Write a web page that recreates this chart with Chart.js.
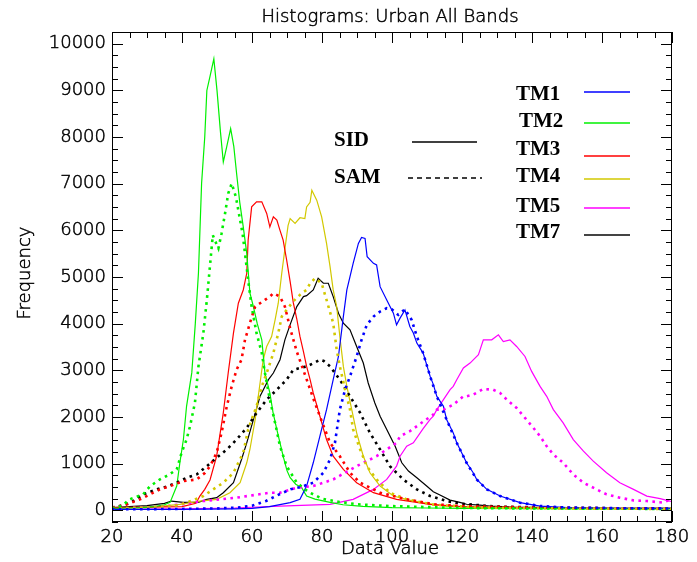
<!DOCTYPE html>
<html>
<head>
<meta charset="utf-8">
<script src="https://cdn.jsdelivr.net/npm/chart.js@4"></script>
<style>
  html, body { margin: 0; padding: 0; background: #fff; }
  #wrap { width: 697px; height: 562px; }
</style>
</head>
<body>
<div id="wrap"><canvas id="chart" width="697" height="562"></canvas></div>
<script>
// axis ticks
const xTicks = [20, 40, 60, 80, 100, 120, 140, 160, 180];
const yTicks = [0, 1000, 2000, 3000, 4000, 5000, 6000, 7000, 8000, 9000, 10000];

const bands = ['TM1', 'TM2', 'TM3', 'TM4', 'TM5', 'TM7'];
const bandColors = ['#0000ff', '#00f000', '#ff0000', '#d2c800', '#ff00ff', '#000000'];

// TM1 (blue)
const tm1SidX = [20, 40, 55, 60, 65, 70.9, 73.7, 75.6, 77.5, 79.4, 81.3, 83.2, 84.7, 86.1, 87.1, 88, 88.9, 90.4, 91.3, 92.3, 92.9, 94.7, 95.6, 96.6, 98.5, 100.4, 101.3, 102.3, 103.7, 105.1, 106.1, 107.1, 108.9, 110.9, 111.8, 112.8, 114.7, 115.6, 117.5, 118.5, 120.4, 121.3, 123.2, 124.2, 127.1, 130.9, 136.6, 142.3, 150, 165, 180];
const tm1SidY = [20, 20, 30, 40, 80, 164, 235, 520, 1019, 1588, 2158, 2800, 3297, 4152, 4723, 5007, 5293, 5720, 5849, 5827, 5434, 5293, 5257, 4793, 4509, 4224, 3975, 4118, 4295, 3939, 3800, 3584, 3370, 2870, 2700, 2443, 2229, 1945, 1660, 1447, 1160, 1019, 805, 662, 449, 306, 164, 92, 60, 45, 40];
const tm1SamX = [20, 40, 50, 56, 60, 64, 68, 71, 74, 77.5, 80.4, 82.3, 83.7, 85.1, 86.6, 88, 89.9, 91.3, 92.8, 94.7, 96.6, 98.5, 99.9, 101.8, 103.7, 105.6, 107.1, 108.9, 110.9, 112.8, 115.6, 118.5, 121.3, 124.2, 127.1, 130.9, 136.6, 142.3, 150, 165, 180];
const tm1SamY = [20, 30, 40, 60, 100, 200, 350, 450, 500, 592, 805, 1090, 1447, 2158, 2586, 2870, 3297, 3654, 3975, 4152, 4259, 4331, 4309, 4188, 4309, 4082, 3725, 3370, 2870, 2443, 1945, 1447, 1019, 662, 449, 306, 164, 92, 60, 45, 40];

// TM2 (green)
const tm2SidX = [20, 24, 28, 32, 35, 36.6, 38.5, 39.4, 40.4, 41.3, 42.8, 43.8, 44.7, 45.6, 46.5, 47.1, 48, 49.1, 50, 51, 51.8, 52.8, 53.9, 54.8, 55.6, 56.5, 57.5, 58.5, 59.4, 60.4, 61.5, 62.8, 63.7, 65.1, 66, 67.1, 68, 68.9, 70, 70.9, 72.5, 74.2, 75.6, 78, 82.3, 86, 91.7, 100, 110, 120, 140, 160, 180];
const tm2SidY = [40, 50, 60, 80, 120, 170, 520, 1025, 1517, 2229, 2950, 4000, 5086, 7010, 8000, 8997, 9300, 9675, 9000, 8100, 7465, 7800, 8178, 7800, 7217, 6600, 6075, 5507, 4658, 4366, 4000, 3654, 2942, 2515, 2100, 1731, 1447, 1160, 850, 700, 560, 485, 306, 240, 171, 120, 85, 60, 50, 40, 35, 30, 30];
const tm2SamX = [20, 23, 25, 28.9, 30.9, 33.7, 36, 38.5, 39.9, 41.3, 42.3, 43.7, 44.7, 46.1, 47.1, 47.8, 48.8, 49.3, 50.4, 51.3, 52.3, 53.2, 54.2, 55.4, 56.6, 57.3, 58, 58.9, 59.9, 61.3, 62.8, 63.7, 65.1, 66.6, 68, 69.9, 72.8, 76, 80, 85, 90, 100, 120, 140, 160, 180];
const tm2SamY = [40, 100, 235, 342, 520, 662, 750, 876, 1240, 1517, 1802, 2308, 3084, 3797, 4509, 5080, 5898, 5800, 5614, 5934, 6362, 6789, 7003, 6717, 6219, 5934, 5507, 4936, 4366, 3797, 3370, 2942, 2372, 1874, 1374, 947, 592, 400, 250, 180, 130, 90, 50, 40, 35, 30];

// TM3 (red)
const tm3SidX = [20, 30, 40, 44, 45.1, 46.5, 48, 49.9, 51.8, 53.2, 54.7, 56.1, 57.5, 58.5, 58.9, 59.9, 61.3, 62.8, 64.2, 65.1, 66.1, 67.1, 68, 68.9, 69.9, 70.9, 71.8, 72.8, 73.7, 74.7, 75.6, 76.6, 77.5, 79.4, 81.3, 83.2, 86.1, 89.9, 94.7, 101.3, 110.9, 120, 140, 160, 180];
const tm3SidY = [60, 70, 80, 150, 306, 450, 650, 1160, 2088, 2942, 3797, 4438, 4722, 5080, 5791, 6503, 6610, 6610, 6362, 6075, 6289, 6219, 6000, 5791, 5364, 4900, 4450, 4100, 3726, 3400, 3084, 2800, 2515, 2016, 1517, 1160, 876, 592, 378, 235, 128, 80, 55, 45, 40];
const tm3SamX = [20, 24, 28, 31.8, 33.7, 36.6, 40.4, 44.2, 46.6, 48, 49.9, 51.3, 52.8, 54.2, 55.6, 57, 58, 59.4, 60.9, 62.3, 63.7, 65.1, 66.1, 68, 69.4, 70.9, 72.8, 74.7, 76.1, 77.5, 79.4, 82.3, 85.1, 88, 90.9, 96.6, 104.2, 112, 120, 140, 160, 180];
const tm3SamY = [60, 120, 235, 378, 449, 520, 626, 662, 805, 947, 1233, 1660, 2229, 2656, 3013, 3227, 3654, 4011, 4366, 4438, 4509, 4580, 4651, 4580, 4366, 3900, 3400, 3000, 2700, 2400, 2016, 1447, 1160, 805, 592, 378, 235, 130, 90, 60, 45, 40];

// TM4 (yellow)
const tm4SidX = [20, 30, 39.4, 45.1, 49.9, 53.7, 56.6, 58.5, 59.4, 60.9, 62.3, 63.2, 64.2, 65.6, 66.6, 67.5, 68.5, 69.4, 70.3, 70.9, 72.3, 73.7, 75.1, 75.6, 76.6, 77.1, 78.5, 79.9, 81.3, 82.3, 83.2, 84.2, 85.1, 86.1, 87.1, 88.5, 89.9, 91.8, 93.7, 96.6, 100.4, 106.1, 115, 130, 150, 180];
const tm4SidY = [40, 60, 128, 199, 235, 378, 592, 1019, 1304, 1945, 2729, 3227, 3511, 3725, 4082, 4438, 5080, 5600, 6100, 6250, 6150, 6270, 6250, 6500, 6600, 6860, 6646, 6289, 5720, 5221, 4723, 4366, 3725, 3084, 2656, 2158, 1660, 1160, 805, 520, 306, 199, 90, 50, 40, 30];
const tm4SamX = [20, 30, 38, 41.3, 46.1, 48.9, 51.8, 54.7, 57.5, 58.9, 59.9, 61.3, 62.8, 64.2, 66.1, 67.5, 68.5, 69.9, 71.8, 74.2, 75.6, 76.5, 78, 79.9, 81.3, 83.2, 84.2, 85.1, 86.6, 88, 88.9, 90.9, 92.8, 95.6, 99.4, 104.2, 112, 125, 150, 180];
const tm4SamY = [40, 60, 100, 164, 306, 449, 592, 805, 1233, 1731, 1945, 2229, 2656, 2942, 3370, 3797, 4152, 4295, 4480, 4652, 4723, 4850, 4973, 4866, 4509, 4011, 3441, 3084, 2586, 2158, 1731, 1304, 947, 662, 378, 235, 120, 60, 40, 30];

// TM5 (magenta)
const tm5SidX = [20, 40, 55, 68, 82.3, 88.9, 94.7, 98.5, 101.3, 102.3, 104.2, 106.1, 108.9, 110.9, 111.8, 112.8, 114.7, 116.6, 117.5, 118.5, 120.4, 122.3, 124.7, 126.1, 128.5, 130.4, 131.8, 133.7, 135.6, 138, 139.9, 142.3, 144.2, 146.1, 148.9, 151.8, 154.7, 157.5, 161.3, 165.1, 169, 172.8, 176.6, 179.4, 180];
const tm5SidY = [20, 30, 50, 92, 128, 235, 449, 662, 947, 1160, 1374, 1447, 1750, 1950, 2016, 2158, 2372, 2586, 2656, 2800, 3050, 3156, 3334, 3654, 3654, 3761, 3618, 3654, 3511, 3297, 2977, 2656, 2443, 2158, 1874, 1517, 1267, 1054, 805, 592, 449, 306, 250, 199, 190];
const tm5SamX = [20, 35, 46.1, 55.6, 65.1, 68, 72.8, 77.5, 83.2, 89.9, 95.6, 101.3, 102.3, 105.1, 106.1, 108.9, 111.8, 112.8, 114.7, 117.5, 120.4, 121.3, 123.2, 126.1, 128.9, 130.9, 132.8, 135.6, 138, 140.4, 142.3, 144.2, 146.1, 148.9, 151.8, 154.7, 157.5, 161.3, 165.1, 169, 172.8, 177.5, 180];
const tm5SamY = [30, 80, 199, 271, 378, 378, 485, 520, 662, 947, 1160, 1447, 1588, 1695, 1750, 1900, 2052, 2158, 2158, 2265, 2443, 2443, 2479, 2600, 2586, 2515, 2372, 2194, 1981, 1767, 1588, 1374, 1197, 1019, 769, 592, 485, 342, 271, 214, 200, 164, 250];

// TM7 (black)
const tm7SidX = [20, 25, 30, 35, 37, 40.3, 44.6, 47.1, 49.9, 51.8, 54.7, 57, 58.5, 60.4, 62.3, 64.7, 66.1, 68, 69.4, 70.9, 72.8, 74.7, 75.6, 77.5, 78.9, 80.4, 81.8, 83.2, 84.7, 86.1, 88, 89.9, 91.8, 93.2, 95.1, 96.6, 98.5, 100.9, 102.8, 104.7, 107.1, 109.9, 111.8, 113.7, 116.6, 119.4, 121.3, 125.1, 128, 135, 150, 165, 180];
const tm7SidY = [60, 80, 100, 150, 199, 171, 171, 235, 271, 378, 592, 1090, 1447, 1945, 2443, 2800, 2942, 3227, 3654, 3980, 4366, 4580, 4600, 4723, 4973, 4866, 4866, 4580, 4224, 4011, 3868, 3511, 3156, 2729, 2301, 2016, 1731, 1374, 1019, 841, 698, 520, 400, 330, 220, 170, 130, 110, 92, 70, 55, 45, 40];
const tm7SamX = [20, 22, 24, 26.1, 28.9, 32.8, 36.1, 38.5, 41.3, 44.2, 47.1, 49.9, 52.8, 55.6, 58.5, 61.3, 64.2, 67.1, 69.9, 71.8, 73.7, 75.6, 77.5, 79.4, 80.5, 82.3, 85.1, 88, 90.9, 93.7, 96.6, 99.4, 103.2, 107.1, 110.9, 115.6, 120, 130, 150, 180];
const tm7SamY = [60, 90, 130, 199, 342, 449, 520, 592, 698, 769, 947, 1126, 1304, 1517, 1767, 2088, 2372, 2586, 2800, 3013, 3050, 3084, 3150, 3227, 3200, 3084, 2800, 2443, 2088, 1660, 1304, 947, 662, 449, 306, 199, 140, 80, 50, 40];

const sidSeries = [[tm1SidX, tm1SidY], [tm2SidX, tm2SidY], [tm3SidX, tm3SidY], [tm4SidX, tm4SidY], [tm5SidX, tm5SidY], [tm7SidX, tm7SidY]];
const samSeries = [[tm1SamX, tm1SamY], [tm2SamX, tm2SamY], [tm3SamX, tm3SamY], [tm4SamX, tm4SamY], [tm5SamX, tm5SamY], [tm7SamX, tm7SamY]];

const FONT = '"DejaVu Sans", sans-serif';

function pts(xs, ys) {
  return xs.map((x, i) => ({ x, y: ys[i] }));
}

const datasets = [];
bands.forEach((b, i) => {
  datasets.push({
    label: b + ' SAM',
    data: pts(samSeries[i][0], samSeries[i][1]),
    borderColor: bandColors[i],
    borderWidth: 2.6,
    borderDash: [2.6, 4.4],
    borderCapStyle: 'butt',
  });
});
bands.forEach((b, i) => {
  datasets.push({
    label: b + ' SID',
    data: pts(sidSeries[i][0], sidSeries[i][1]),
    borderColor: bandColors[i],
    borderWidth: 1.2,
  });
});

// frame, inward ticks on all sides, titles and hand-placed legend
const idlFrame = {
  id: 'idlFrame',
  afterDraw(chart) {
    const { ctx, chartArea: a, scales } = chart;
    const xs = scales.x, ys = scales.y;
    ctx.save();
    ctx.strokeStyle = '#000';
    ctx.lineWidth = 1;
    ctx.strokeRect(a.left + 0.5, a.top + 0.5, a.width - 1, a.height - 1);

    ctx.beginPath();
    for (let v = xs.min; v <= xs.max; v += 5) {
      const p = Math.round(xs.getPixelForValue(v)) + 0.5;
      const len = v % 20 === 0 ? 11 : 6;
      ctx.moveTo(p, a.bottom); ctx.lineTo(p, a.bottom - len);
      ctx.moveTo(p, a.top); ctx.lineTo(p, a.top + len);
    }
    for (let v = ys.min; v <= ys.max; v += 250) {
      const p = Math.round(ys.getPixelForValue(v)) + 0.5;
      const len = v % 1000 === 0 ? 11 : 6;
      ctx.moveTo(a.left, p); ctx.lineTo(a.left + len, p);
      ctx.moveTo(a.right, p); ctx.lineTo(a.right - len, p);
    }
    ctx.stroke();

    // titles
    ctx.fillStyle = '#000';
    ctx.strokeStyle = '#000';
    ctx.lineWidth = 0.5;
    ctx.font = '200 18px ' + FONT;
    ctx.textAlign = 'center';
    ctx.textBaseline = 'middle';
    const label = (t, x, y) => { ctx.fillText(t, x, y); ctx.strokeText(t, x, y); };
    label('Histograms: Urban All Bands', 390, 17);
    label('Data Value', 390, 549);
    ctx.save();
    ctx.translate(25, 273);
    ctx.rotate(-Math.PI / 2);
    label('Frequency', 0, 0);
    ctx.restore();

    // legend
    ctx.font = 'bold 21px "Liberation Serif", serif';
    ctx.textAlign = 'left';
    ctx.fillText('SID', 334, 141);
    ctx.fillText('SAM', 334, 178);
    ctx.lineWidth = 1.5;
    ctx.beginPath(); ctx.moveTo(412, 142); ctx.lineTo(477, 142); ctx.stroke();
    ctx.setLineDash([5, 4]);
    ctx.beginPath(); ctx.moveTo(408, 178); ctx.lineTo(482, 178); ctx.stroke();
    ctx.setLineDash([]);

    const labelY = [95, 122, 150, 177, 207, 233];
    const lineY = [92, 123, 156, 179, 208, 235];
    bands.forEach((b, i) => {
      ctx.fillStyle = '#000';
      ctx.fillText(b, i === 1 ? 519 : 516, labelY[i]);
      ctx.strokeStyle = i === 5 ? '#444' : bandColors[i];
      ctx.lineWidth = i === 5 ? 2 : 1.5;
      ctx.beginPath(); ctx.moveTo(584, lineY[i]); ctx.lineTo(630, lineY[i]); ctx.stroke();
    });
    ctx.restore();
  }
};

const tickOpts = {
  color: '#000',
  textStrokeColor: '#000',
  textStrokeWidth: 0.5,
  callback: v => String(v),
  font: { family: FONT, size: 18, weight: 200 },
};

new Chart(document.getElementById('chart'), {
  type: 'line',
  data: { datasets },
  options: {
    responsive: false,
    animation: false,
    devicePixelRatio: 1,
    elements: { point: { radius: 0 }, line: { tension: 0 } },
    layout: { padding: { top: 32, right: 25, left: 0, bottom: 0 } },
    plugins: { legend: { display: false }, tooltip: { enabled: false } },
    scales: {
      x: {
        type: 'linear',
        min: 20,
        max: 180,
        afterBuildTicks: s => { s.ticks = xTicks.map(v => ({ value: v })); },
        afterFit: s => { s.height = 40; },
        grid: { display: false, drawTicks: false },
        border: { display: false },
        ticks: { ...tickOpts, padding: 5, maxRotation: 0 },
      },
      y: {
        min: -250,
        max: 10250,
        afterBuildTicks: s => { s.ticks = yTicks.map(v => ({ value: v })); },
        afterFit: s => { s.width = 112; },
        grid: { display: false, drawTicks: false },
        border: { display: false },
        ticks: { ...tickOpts, padding: 6 },
      },
    },
  },
  plugins: [idlFrame],
});
</script>
</body>
</html>
